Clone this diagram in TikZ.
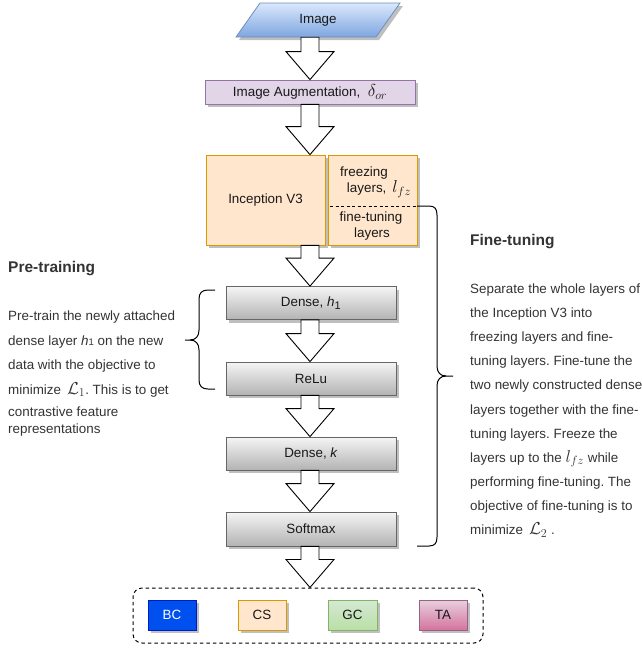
\documentclass[tikz,border=0pt]{standalone}
\usepackage{fontspec}
\setmainfont{Liberation Sans}
\usetikzlibrary{calc,shadows}
\definecolor{imgtop}{HTML}{DAE8FC}
\definecolor{imgbot}{HTML}{7EA6E0}
\definecolor{imgstroke}{HTML}{6C8EBF}
\definecolor{augfill}{HTML}{E1D5E7}
\definecolor{augstroke}{HTML}{9673A6}
\definecolor{orfill}{HTML}{FFE6CC}
\definecolor{orstroke}{HTML}{D79B00}
\definecolor{graytop}{HTML}{F5F5F5}
\definecolor{graybot}{HTML}{B3B3B3}
\definecolor{graystroke}{HTML}{666666}
\definecolor{bcfill}{HTML}{0050EF}
\definecolor{bcstroke}{HTML}{001DBC}
\definecolor{gctop}{HTML}{D5E8D4}
\definecolor{gcbot}{HTML}{B9E0A5}
\definecolor{gcstroke}{HTML}{82B366}
\definecolor{tatop}{HTML}{E6D0DE}
\definecolor{tabot}{HTML}{D5739D}
\definecolor{tastroke}{HTML}{996185}
\definecolor{txt}{HTML}{333333}
\newcommand\mymath[1]{{\fontsize{16.5}{18}\selectfont$#1$}}
\newcommand\blockarrow[2]{%
  \draw[barrow] let \p1=(ax |- #1.south), \p2=(ax |- #2.north) in
   (\x1-9pt,\y1) -- (\x1+9pt,\y1) -- (\x1+9pt,\y2+28pt) -- (\x1+24pt,\y2+28pt)
   -- (\x1,\y2) -- (\x1-24pt,\y2+28pt) -- (\x1-9pt,\y2+28pt) -- cycle;}
\frenchspacing
\begin{document}
\begin{tikzpicture}[x=1pt,y=-1pt,
  every node/.style={inner sep=0pt, font=\fontsize{13.4}{16}\selectfont},
  shad/.style={drop shadow={shadow xshift=3pt,shadow yshift=-3pt,opacity=0.25,fill=black}},
  box/.style={draw, line width=0.8pt, shad, text=black!90},
  graybox/.style={box, draw=graystroke, top color=graytop, bottom color=graybot,
    minimum width=170pt, minimum height=33pt},
  classbox/.style={box, minimum width=48pt, minimum height=30pt},
  barrow/.style={draw=black, fill=white, line width=0.9pt, line join=miter},
  brace/.style={draw=black, line width=1pt},
  para/.style={anchor=base west, text=txt},
  title/.style={anchor=base west, text=txt, font=\fontsize{15.5}{18}\selectfont\bfseries}]
\useasboundingbox (0,0) rectangle (642,649);
\coordinate (ax) at (310,0);

% Image parallelogram
\path[draw=imgstroke, line width=0.8pt, top color=imgtop, bottom color=imgbot, shad]
  (236,37) -- (260,3) -- (400,3) -- (376,37) -- cycle;
\node[minimum width=140pt, minimum height=34pt, text=black!90] (img) at (318,20) {Image};

% Augmentation
\node[box, draw=augstroke, fill=augfill, minimum width=210pt, minimum height=24pt] (aug) at (310,92)
  {Image Augmentation, \ \mymath{\delta_{or}}};

% Inception + freezing
\node[box, draw=orstroke, fill=orfill, minimum width=119pt, minimum height=90pt] (incep) at (265.5,200) {Inception V3};
\node[box, draw=orstroke, fill=orfill, minimum width=89pt, minimum height=90pt] (freeze) at (372.5,200) {};
\node[text=black!90] (fz1) at (364,173) {freezing};
\node[text=black!90] (fz2) at (379,189) {layers, \,\mymath{l_{fz}}};
\node[text=black!90] (ft1) at (371,218) {fine-tuning};
\node[text=black!90] (ft2) at (372,234) {layers};
\coordinate (divL) at (330,206);
\coordinate (divR) at (417,206);
\draw[line width=0.9pt, dash pattern=on 3pt off 2.5pt] (divL) -- (divR);

% Gray layers
\node[graybox] (dense1) at (311,303) {Dense, \textit{h}\textsubscript{\fontsize{11}{12}\selectfont 1}};
\node[graybox] (relu) at (311,378.5) {ReLu};
\node[graybox] (densek) at (311,453.5) {Dense, \textit{k}};
\node[graybox, minimum height=34pt] (softmax) at (311,529) {Softmax};

% Output classes
\node[draw, line width=1pt, dash pattern=on 3.5pt off 3pt, rounded corners=9pt,
  minimum width=350pt, minimum height=55pt] (out) at (308,615.5) {};
\node[classbox, draw=bcstroke, fill=bcfill, text=white] (bc) at (172,615) {BC};
\node[classbox, draw=orstroke, fill=orfill] (cs) at (262,615) {CS};
\node[classbox, draw=gcstroke, top color=gctop, bottom color=gcbot, minimum width=49pt] (gc) at (352.5,615) {GC};
\node[classbox, draw=tastroke, top color=tatop, bottom color=tabot] (ta) at (443,615) {TA};

% Block arrows
\blockarrow{img}{aug}
\blockarrow{aug}{incep}
\blockarrow{incep}{dense1}
\blockarrow{dense1}{relu}
\blockarrow{relu}{densek}
\blockarrow{densek}{softmax}
\blockarrow{softmax}{out}

% Right brace
\coordinate (rtip) at (453,376);
\coordinate (rbot) at (417,546);
\draw[brace] (divR) -- (429,206) .. controls (435,206) and (437,209) .. (437,215)
  -- (437,366) .. controls (437,372) and (440,376) .. (446,376) -- (rtip);
\draw[brace] (446,376) .. controls (440,376) and (437,380) .. (437,386)
  -- (437,537) .. controls (437,543) and (435,546) .. (429,546) -- (rbot);

% Left brace
\coordinate (ltop) at (215,290);
\coordinate (lbot) at (215,389);
\coordinate (ltip) at (185,340);
\draw[brace] (ltop) -- (208,290) .. controls (202,290) and (199,293) .. (199,299)
  -- (199,330) .. controls (199,336) and (196,340) .. (190,340) -- (ltip);
\draw[brace] (190,340) .. controls (196,340) and (199,344) .. (199,350)
  -- (199,380) .. controls (199,386) and (202,389) .. (208,389) -- (lbot);

% Left text
\node[title] (pt) at (8,272.5) {Pre-training};
\node[para] (l1) at (8,320) {Pre-train the newly attached};
\node[para] (l2) at (8,345) {dense layer \textit{h}{\fontsize{9.5}{10}\selectfont 1} on the new};
\node[para] (l3) at (8,369.5) {data with the objective to};
\node[para] (l4) at (8,394) {minimize \,\mymath{\mathcal{L}_1}. This is to get};
\node[para] (l5) at (8,416) {contrastive feature};
\node[para] (l6) at (8,433) {representations};

% Right text
\node[title] (ftt) at (470,245.5) {Fine-tuning};
\node[para] (r1) at (470,293.5) {Separate the whole layers of};
\node[para] (r2) at (470,317.6) {the Inception V3 into};
\node[para] (r3) at (470,341.7) {freezing layers and fine-};
\node[para] (r4) at (470,365.8) {tuning layers. Fine-tune the};
\node[para] (r5) at (470,389.9) {two newly constructed dense};
\node[para] (r6) at (470,414) {layers together with the fine-};
\node[para] (r7) at (470,438.1) {tuning layers. Freeze the};
\node[para] (r8) at (470,462.2) {layers up to the \mymath{l_{fz}} while};
\node[para] (r9) at (470,486.3) {performing fine-tuning. The};
\node[para] (r10) at (470,510.4) {objective of fine-tuning is to};
\node[para] (r11) at (470,534.5) {minimize \,\mymath{\mathcal{L}_2} .};
\end{tikzpicture}
\end{document}
